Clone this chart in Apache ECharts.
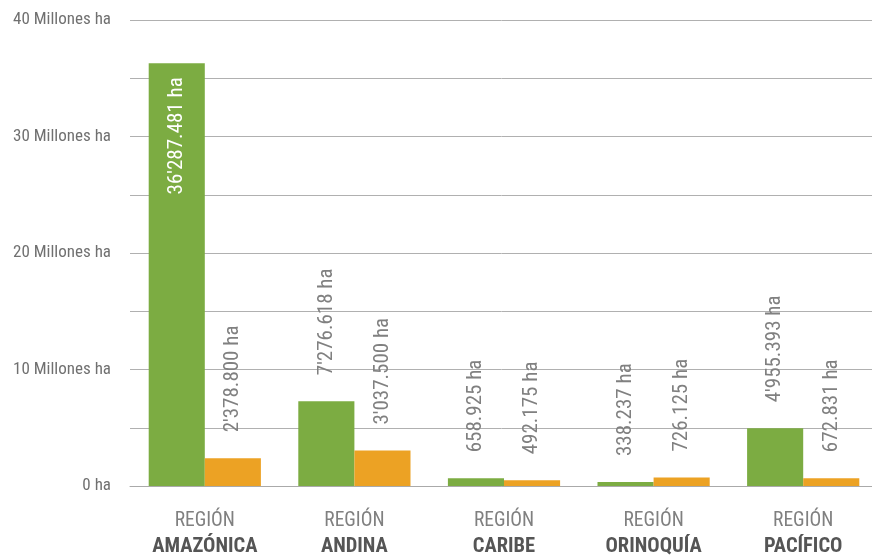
<!DOCTYPE html>
<html><head><meta charset="utf-8">
<script src="https://cdn.jsdelivr.net/npm/echarts@6/dist/echarts.min.js"></script>
<style>html,body{margin:0;padding:0;background:#fff;overflow:hidden}#c{width:872px;height:559px}</style>
</head><body><div id="c"></div>
<script>
const regionPrefix = 'REGIÓN';
const regions = ['AMAZÓNICA', 'ANDINA', 'CARIBE', 'ORINOQUÍA', 'PACÍFICO'];
const greenValues = [36287481, 7276618, 658925, 338237, 4955393];
const orangeValues = [2378800, 3037500, 492175, 726125, 672831];
const yTicks = [0, 10000000, 20000000, 30000000, 40000000];

const FONT = '"Liberation Sans Narrow", "Roboto Condensed", "Liberation Sans", sans-serif';

function fmt(v) {
  const m = Math.floor(v / 1e6);
  const rest = v % 1e6;
  const t = Math.floor(rest / 1000);
  const u = rest % 1000;
  const pad = n => String(n).padStart(3, '0');
  if (m > 0) return m + "'" + pad(t) + '.' + pad(u) + ' ha';
  return t + '.' + pad(u) + ' ha';
}

const labelOut = {
  show: true, position: 'top', rotate: 90, align: 'left', verticalAlign: 'middle',
  distance: 26, color: '#808080', fontSize: 21, fontFamily: FONT,
  formatter: p => fmt(p.value)
};

const greenData = greenValues.map((v, i) => i === 0 ? {
  value: v,
  label: { show: true, position: 'insideTop', rotate: 90, align: 'right', verticalAlign: 'middle',
           distance: 14, color: '#fff', fontSize: 21, fontFamily: FONT, formatter: p => fmt(p.value) }
} : v);

const chart = echarts.init(document.getElementById('c'));
chart.setOption({
  animation: false,
  grid: { left: 130, width: 748, top: 20, bottom: 73, containLabel: false, outerBoundsMode: 'none' },
  xAxis: {
    type: 'category', data: regions,
    axisLine: { show: true, lineStyle: { color: '#aaa', width: 1 } },
    axisTick: { show: false },
    axisLabel: {
      margin: 22, interval: 0, fontFamily: FONT,
      formatter: v => '{a|' + regionPrefix + '}\n{b|' + v + '}',
      rich: {
        a: { fontSize: 19.5, color: '#808080', fontFamily: FONT, lineHeight: 26 },
        b: { fontSize: 20.5, color: '#555', fontWeight: 'bold', fontFamily: FONT, lineHeight: 26 }
      }
    }
  },
  yAxis: {
    type: 'value', min: 0, max: 40000000, interval: 5000000,
    axisLine: { show: false }, axisTick: { show: false },
    splitLine: { lineStyle: { color: '#b0b0b0', width: 1 } },
    axisLabel: {
      margin: 19, color: '#707070', fontSize: 17, fontFamily: FONT,
      formatter: v => {
        if (!yTicks.includes(v)) return '';
        return v === 0 ? '0 ha' : (v / 1e6) + ' Millones ha';
      }
    }
  },
  series: [
    { type: 'bar', data: greenData, itemStyle: { color: '#7cac42' },
      barGap: '0%', barCategoryGap: '25%', label: labelOut },
    { type: 'bar', data: orangeValues, itemStyle: { color: '#eca224' },
      label: labelOut }
  ]
});
</script></body></html>
